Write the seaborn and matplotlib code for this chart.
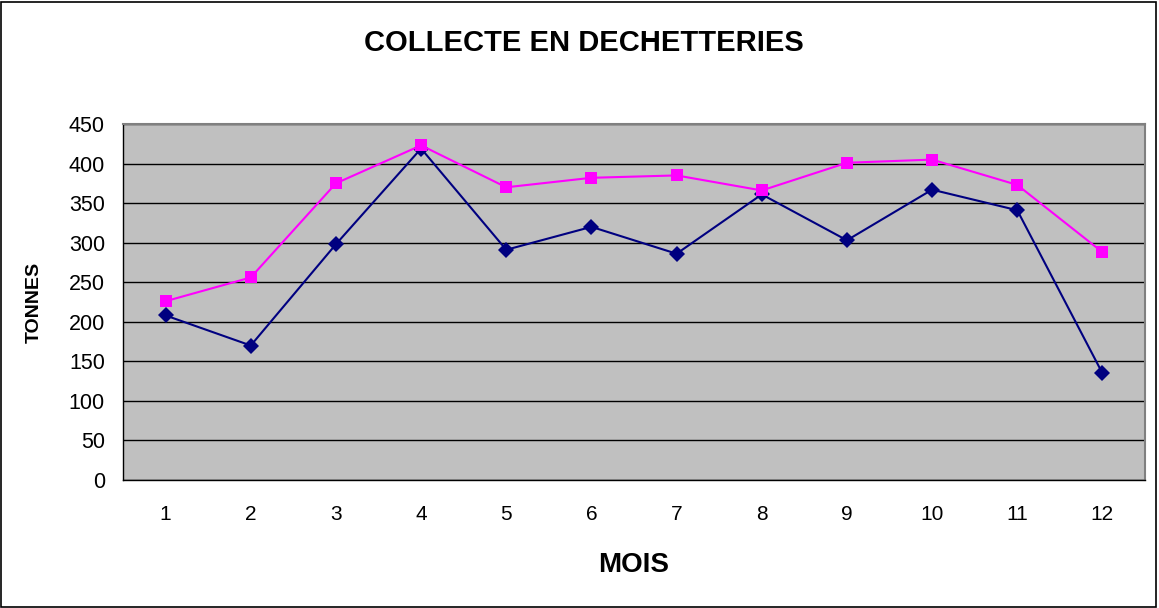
import matplotlib
matplotlib.use("Agg")
import matplotlib.pyplot as plt
import seaborn as sns
import pandas as pd
from matplotlib.patches import Rectangle

mois = [1, 2, 3, 4, 5, 6, 7, 8, 9, 10, 11, 12]
serie_bleue = [208, 170, 298, 419, 291, 320, 286, 361, 303, 367, 341, 135]
serie_rose = [226, 256, 375, 423, 370, 382, 385, 366, 401, 405, 373, 288]
y_ticks = [0, 50, 100, 150, 200, 250, 300, 350, 400, 450]

df = pd.DataFrame({
    "mois": mois * 2,
    "tonnes": serie_bleue + serie_rose,
    "serie": ["bleue"] * 12 + ["rose"] * 12,
})

sns.set_style("white")
plt.rcParams["font.family"] = ["Liberation Sans", "DejaVu Sans"]
plt.rcParams["text.color"] = "black"
plt.rcParams["axes.labelcolor"] = "black"
plt.rcParams["xtick.color"] = "black"
plt.rcParams["ytick.color"] = "black"

fig = plt.figure(figsize=(11.59, 6.08), dpi=100)
ax = fig.add_axes([123 / 1159, 1 - 480 / 608, 1022 / 1159, 356 / 608])
ax.set_facecolor("#C0C0C0")

sns.lineplot(data=df, x="mois", y="tonnes", hue="serie", style="serie",
             palette={"bleue": "#000080", "rose": "#FF00FF"},
             markers={"bleue": "D", "rose": "s"}, dashes=False,
             markersize=8, markeredgewidth=0, linewidth=1.5,
             legend=False, ax=ax, zorder=3)

ax.set_xlim(0.5, 12.5)
ax.set_ylim(0, 450)
ax.set_yticks(y_ticks)
ax.set_xticks(mois)
ax.set_xticks([m - 0.5 for m in mois] + [12.5], minor=True)
ax.tick_params(axis="x", which="major", length=0, pad=18, labelsize=15)
ax.tick_params(axis="x", which="minor", length=6, width=1, direction="out")
ax.tick_params(axis="y", length=5, width=1, direction="out", labelsize=15.5, pad=8)
ax.yaxis.grid(True, color="black", linewidth=1)
ax.set_axisbelow(True)

for side in ["left", "bottom"]:
    ax.spines[side].set_color("black")
    ax.spines[side].set_linewidth(1)
for side in ["top", "right"]:
    ax.spines[side].set_visible(True)
    ax.spines[side].set_color("#808080")
    ax.spines[side].set_linewidth(1.5)

ax.set_xlabel("MOIS", fontsize=20, fontweight="bold", labelpad=20)
ax.set_ylabel("TONNES", fontsize=14, fontweight="bold", labelpad=19)

fig.text(0.504, 1 - 43 / 608, "COLLECTE EN DECHETTERIES", ha="center", va="center",
         fontsize=21, fontweight="bold")

fig.patches.append(Rectangle((0.001, 0.002), 0.996, 0.995, transform=fig.transFigure,
                             fill=False, edgecolor="black", linewidth=1.2))

fig.savefig("out.png", dpi=100)
